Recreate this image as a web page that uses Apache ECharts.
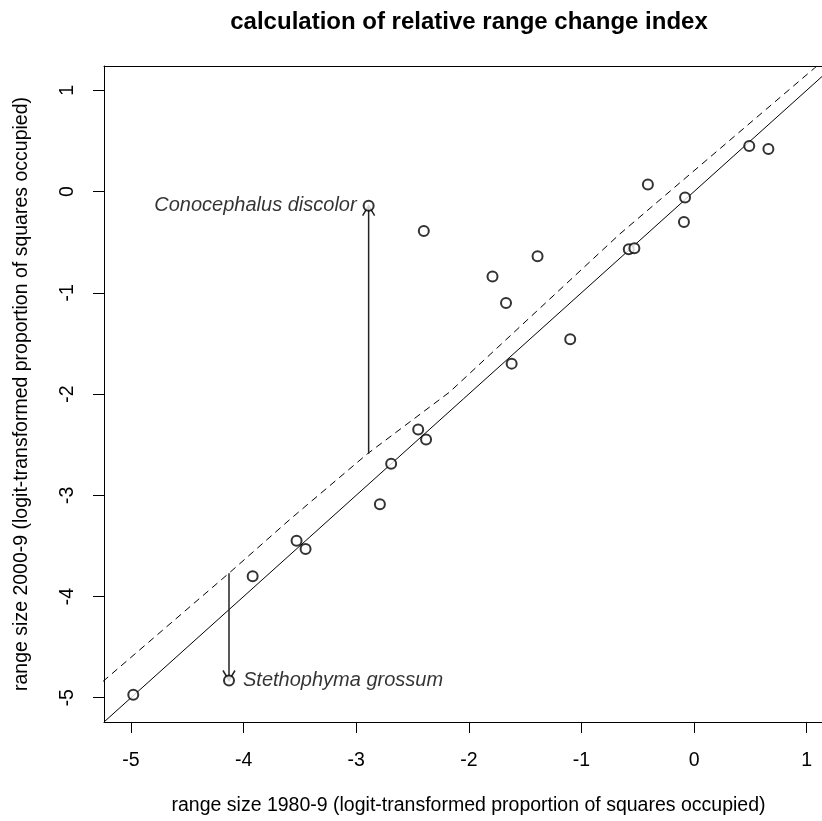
<!DOCTYPE html>
<html>
<head>
<meta charset="utf-8">
<script src="https://cdn.jsdelivr.net/npm/echarts@6/dist/echarts.min.js"></script>
<style>
  html, body { margin: 0; background: #fff; }
  #chart { width: 822px; height: 821px; }
</style>
</head>
<body>
<div id="chart"></div>
<script>
// species points (logit-transformed proportion of squares occupied)
const ptX = [-4.98, -3.92, -3.53, -3.45, -2.79, -2.69, -2.45, -2.38, -2.40, -1.79, -1.67, -1.62, -1.39, -1.10, -0.58, -0.53, -0.41, -0.08, -0.09, 0.49, 0.66];
const ptY = [-4.97, -3.80, -3.45, -3.53, -3.09, -2.69, -2.35, -2.45, -0.39, -0.84, -1.10, -1.70, -0.64, -1.46, -0.57, -0.56, 0.07, -0.06, -0.30, 0.45, 0.42];

// highlighted species, with fitted value where the arrow starts
const namedSpecies = ['Conocephalus discolor', 'Stethophyma grossum'];
const namedX = [-2.89, -4.13];
const namedY = [-0.14, -4.83];
const namedFitY = [-2.59, -3.77];

// fitted relationship (dashed)
const fitX = [-5.25, -4.13, -3.59, -2.90, -2.17, -0.66, 1.07, 1.30];
const fitY = [-4.84, -3.77, -3.24, -2.59, -1.98, -0.42, 1.22, 1.44];

// 1:1 line (solid)
const oneX = [-5.24, 1.24];
const oneY = [-5.24, 1.24];

const tickValues = [-5, -4, -3, -2, -1, 0, 1];
const xMin = -5.24, xMax = 1.136;   // plot box continues past the right edge
const yMin = -5.24, yMax = 1.24;

const chart = echarts.init(document.getElementById('chart'));
const font = 'Liberation Sans, Arial, sans-serif';

const blackLine = { color: '#000', width: 1 };
const tickStyle = { show: true, inside: false, length: 11, customValues: tickValues, lineStyle: blackLine };
const labelStyle = { customValues: tickValues, fontFamily: font, fontSize: 19.5, color: '#000' };

chart.setOption({
    backgroundColor: '#fff',
    animation: false,
    title: {
        text: 'calculation of relative range change index',
        left: 464,
        top: 5,
        textAlign: 'center',
        textStyle: { fontFamily: font, fontSize: 24, fontWeight: 'bold', color: '#000' }
    },
    grid: { left: 104, top: 66, right: 0, bottom: 98, show: false },
    xAxis: [
        {
            type: 'value', min: xMin, max: xMax, position: 'bottom',
            splitLine: { show: false },
            axisLine: { show: true, onZero: false, lineStyle: blackLine },
            axisTick: tickStyle,
            axisLabel: Object.assign({ margin: 29 }, labelStyle),
            name: 'range size 1980-9 (logit-transformed proportion of squares occupied)',
            nameLocation: 'middle',
            nameGap: 74,
            nameTextStyle: { fontFamily: font, fontSize: 19.5, color: '#000', padding: [0, 0, 0, 11] }
        },
        {
            type: 'value', min: xMin, max: xMax, position: 'top',
            splitLine: { show: false },
            axisLine: { show: true, onZero: false, lineStyle: blackLine },
            axisTick: { show: false },
            axisLabel: { show: false }
        }
    ],
    yAxis: {
        type: 'value', min: yMin, max: yMax,
        splitLine: { show: false },
        axisLine: { show: true, onZero: false, lineStyle: blackLine },
        axisTick: tickStyle,
        axisLabel: Object.assign({ rotate: 90, margin: 26 }, labelStyle),
        name: 'range size 2000-9 (logit-transformed proportion of squares occupied)',
        nameLocation: 'middle',
        nameGap: 72,
        nameTextStyle: { fontFamily: font, fontSize: 19.5, color: '#000' }
    },
    series: [
        {
            type: 'line',
            data: oneX.map((x, i) => [x, oneY[i]]),
            symbol: 'none',
            lineStyle: blackLine,
            z: 2
        },
        {
            type: 'line',
            data: fitX.map((x, i) => [x, fitY[i]]),
            symbol: 'none',
            lineStyle: { color: '#000', width: 1, type: [7, 5] },
            z: 2
        },
        {
            type: 'custom',
            data: namedX.map((x, i) => [x, namedFitY[i], namedY[i]]),
            renderItem: function (params, api) {
                const p0 = api.coord([api.value(0), api.value(1)]);
                const p1 = api.coord([api.value(0), api.value(2)]);
                const dir = p1[1] > p0[1] ? 1 : -1;
                const L = 10, W = 6;
                return {
                    type: 'group',
                    children: [
                        { type: 'line', shape: { x1: p0[0], y1: p0[1], x2: p1[0], y2: p1[1] }, style: { stroke: '#222', lineWidth: 1.5 } },
                        { type: 'polyline', shape: { points: [[p1[0] - W, p1[1] - dir * L], [p1[0], p1[1]], [p1[0] + W, p1[1] - dir * L]] }, style: { stroke: '#222', lineWidth: 1.5, fill: null } }
                    ]
                };
            },
            z: 3
        },
        {
            type: 'scatter',
            data: ptX.map((x, i) => [x, ptY[i]]),
            symbol: 'emptyCircle',
            symbolSize: 10,
            itemStyle: { color: '#000', borderColor: '#000', borderWidth: 1 },
            z: 4
        },
        {
            type: 'scatter',
            data: namedX.map((x, i) => ({
                value: [x, namedY[i]],
                name: namedSpecies[i],
                label: { position: i === 0 ? 'left' : 'right', distance: i === 0 ? 6 : 8 }
            })),
            symbol: 'emptyCircle',
            symbolSize: 10,
            itemStyle: { color: '#000', borderColor: '#000', borderWidth: 1 },
            label: {
                show: true,
                formatter: p => p.name,
                fontFamily: font,
                fontSize: 20,
                fontStyle: 'italic',
                color: '#000'
            },
            z: 4
        }
    ]
});
</script>
</body>
</html>
